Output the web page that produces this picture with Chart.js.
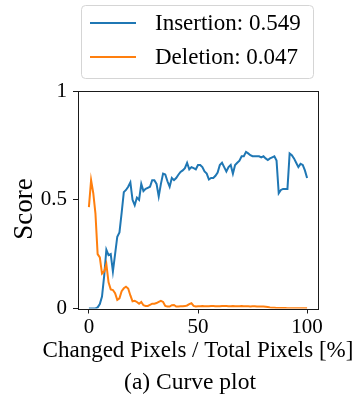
<!DOCTYPE html>
<html>
<head>
<meta charset="utf-8">
<script src="https://cdn.jsdelivr.net/npm/chart.js@4/dist/chart.umd.min.js"></script>
<style>
  html, body { margin: 0; padding: 0; background: #fff; }
  #wrap { width: 360px; height: 397px; }
</style>
</head>
<body>
<div id="wrap"><canvas id="curveChart" width="360" height="397"></canvas></div>
<script>
// Changed pixels (%) on the x axis
const pixelSteps = [
    0, 1, 2, 3, 4, 5, 6, 7, 8, 9, 10, 11, 12, 13, 14, 15, 16, 17, 18, 19,
    20, 21, 22, 23, 24, 25, 26, 27, 28, 29, 30, 31, 32, 33, 34, 35, 36, 37, 38, 39,
    40, 41, 42, 43, 44, 45, 46, 47, 48, 49, 50, 51, 52, 53, 54, 55, 56, 57, 58, 59,
    60, 61, 62, 63, 64, 65, 66, 67, 68, 69, 70, 71, 72, 73, 74, 75, 76, 77, 78, 79,
    80, 81, 82, 83, 84, 85, 86, 87, 88, 89, 90, 91, 92, 93, 94, 95, 96, 97, 98, 99, 100
];

const insertionScores = [
    0, 0, 0, 0, 0.005, 0.02, 0.055, 0.15, 0.27, 0.245, 0.25, 0.17, 0.25, 0.33, 0.35, 0.44, 0.535, 0.545, 0.56, 0.58,
    0.5, 0.475, 0.51, 0.5, 0.573, 0.54, 0.55, 0.555, 0.56, 0.59, 0.59, 0.573, 0.515, 0.573, 0.62, 0.616, 0.585, 0.56, 0.6, 0.59,
    0.6, 0.615, 0.628, 0.635, 0.645, 0.67, 0.64, 0.65, 0.645, 0.64, 0.66, 0.66, 0.65, 0.63, 0.62, 0.593, 0.6, 0.6, 0.61, 0.625,
    0.66, 0.67, 0.65, 0.63, 0.65, 0.66, 0.62, 0.66, 0.67, 0.68, 0.7, 0.7, 0.72, 0.713, 0.705, 0.7, 0.7, 0.7, 0.7, 0.695,
    0.7, 0.69, 0.683, 0.69, 0.695, 0.7, 0.68, 0.53, 0.545, 0.55, 0.55, 0.55, 0.713, 0.705, 0.69, 0.67, 0.65, 0.665, 0.66, 0.635, 0.6
];

const deletionScores = [
    0.466, 0.59, 0.53, 0.436, 0.25, 0.235, 0.16, 0.17, 0.204, 0.12, 0.088, 0.085, 0.07, 0.04, 0.047, 0.08, 0.093, 0.1, 0.092, 0.06,
    0.033, 0.035, 0.03, 0.022, 0.03, 0.015, 0.012, 0.012, 0.017, 0.022, 0.022, 0.025, 0.03, 0.035, 0.03, 0.012, 0.009, 0.009, 0.015, 0.016,
    0.009, 0.009, 0.01, 0.01, 0.011, 0.014, 0.02, 0.024, 0.012, 0.009, 0.01, 0.01, 0.011, 0.01, 0.01, 0.01, 0.011, 0.011, 0.01, 0.01,
    0.01, 0.011, 0.011, 0.011, 0.01, 0.01, 0.011, 0.01, 0.01, 0.01, 0.011, 0.01, 0.01, 0.01, 0.009, 0.01, 0.01, 0.009, 0.009, 0.009,
    0.009, 0.008, 0.007, 0.005, 0.004, 0.003, 0.002, 0.002, 0.002, 0.002, 0.002, 0.001, 0.001, 0.001, 0.001, 0.001, 0.001, 0.001, 0.001, 0.001, 0.001
];

const insertionAuc = 0.549;
const deletionAuc = 0.047;

const xTicks = [0, 50, 100];
const yTicks = [0, 0.5, 1];

const xTitle = 'Changed Pixels / Total Pixels [%]';
const yTitle = 'Score';
const caption = '(a) Curve plot';

const SERIF = '"Liberation Serif", "Times New Roman", serif';

// matplotlib style box around the plot, legend frame, axis labels and caption
const framePlugin = {
    id: 'frame',
    afterDatasetsDraw(chart) {
        const { ctx, chartArea: a } = chart;
        ctx.save();
        ctx.strokeStyle = '#1a1a1a';
        ctx.lineWidth = 1;
        ctx.strokeRect(Math.round(a.left) + 0.5, Math.round(a.top) + 0.5,
            Math.round(a.right - a.left), Math.round(a.bottom - a.top));
        ctx.restore();
    },
    afterDraw(chart) {
        const { ctx, chartArea: a } = chart;
        const midX = (a.left + a.right) / 2;
        ctx.save();

        // legend
        const box = { x: 81.5, y: 5.5, w: 232, h: 73, r: 4 };
        ctx.fillStyle = '#fff';
        ctx.strokeStyle = '#d5d5d5';
        ctx.lineWidth = 1;
        ctx.beginPath();
        ctx.roundRect(box.x, box.y, box.w, box.h, box.r);
        ctx.fill();
        ctx.stroke();

        ctx.font = '23px ' + SERIF;
        ctx.textBaseline = 'middle';
        ctx.textAlign = 'left';
        chart.data.datasets.forEach((ds, i) => {
            const rowY = 23 + i * 34;
            ctx.strokeStyle = ds.borderColor;
            ctx.lineWidth = 2;
            ctx.beginPath();
            ctx.moveTo(90, rowY);
            ctx.lineTo(136, rowY);
            ctx.stroke();
            ctx.fillStyle = '#000';
            ctx.fillText(ds.label, 155, rowY + 1);
        });

        // axis labels and caption (drawn here so they are not squeezed to the plot width)
        ctx.fillStyle = '#000';
        ctx.textAlign = 'center';
        ctx.font = '23px ' + SERIF;
        ctx.fillText(xTitle, midX, 351);
        ctx.font = '23.5px ' + SERIF;
        ctx.fillText(caption, 190, 383);

        ctx.translate(25, 209);
        ctx.rotate(-Math.PI / 2);
        ctx.font = '27px ' + SERIF;
        ctx.fillText(yTitle, 0, 0);
        ctx.restore();
    }
};

const ctx = document.getElementById('curveChart').getContext('2d');
const curveChart = new Chart(ctx, {
    type: 'line',
    data: {
        labels: pixelSteps,
        datasets: [{
            label: `Insertion: ${insertionAuc.toFixed(3)}`,
            data: pixelSteps.map((x, i) => ({ x: x, y: insertionScores[i] })),
            borderColor: '#1f77b4',
            borderWidth: 2,
            pointRadius: 0,
            tension: 0,
            order: 1
        }, {
            label: `Deletion: ${deletionAuc.toFixed(3)}`,
            data: pixelSteps.map((x, i) => ({ x: x, y: deletionScores[i] })),
            borderColor: '#ff7f0e',
            borderWidth: 2,
            pointRadius: 0,
            tension: 0,
            order: 0
        }]
    },
    options: {
        responsive: false,
        devicePixelRatio: 1,
        animation: false,
        layout: { padding: { top: 91, right: 42, left: 0, bottom: 29.5 } },
        plugins: {
            legend: { display: false },
            tooltip: { enabled: false }
        },
        scales: {
            x: {
                type: 'linear',
                min: -5,
                max: 105,
                afterBuildTicks: (scale) => { scale.ticks = xTicks.map(v => ({ value: v })); },
                afterFit: (scale) => { scale.height = 59; },
                border: { display: false },
                grid: { drawOnChartArea: false, drawTicks: true, tickLength: 5, tickColor: '#1a1a1a' },
                ticks: {
                    color: '#000',
                    padding: 3,
                    maxRotation: 0,
                    callback: (v) => `${v}`,
                    font: { family: SERIF, size: 21, lineHeight: 1 }
                }
            },
            y: {
                min: 0,
                max: 1,
                afterBuildTicks: (scale) => { scale.ticks = yTicks.map(v => ({ value: v })); },
                afterFit: (scale) => { scale.width = 78; },
                border: { display: false },
                grid: { drawOnChartArea: false, drawTicks: true, tickLength: 5, tickColor: '#1a1a1a' },
                ticks: {
                    color: '#000',
                    padding: 6,
                    callback: (v) => `${v}`,
                    font: { family: SERIF, size: 21, lineHeight: 1 }
                }
            }
        }
    },
    plugins: [framePlugin]
});
</script>
</body>
</html>
